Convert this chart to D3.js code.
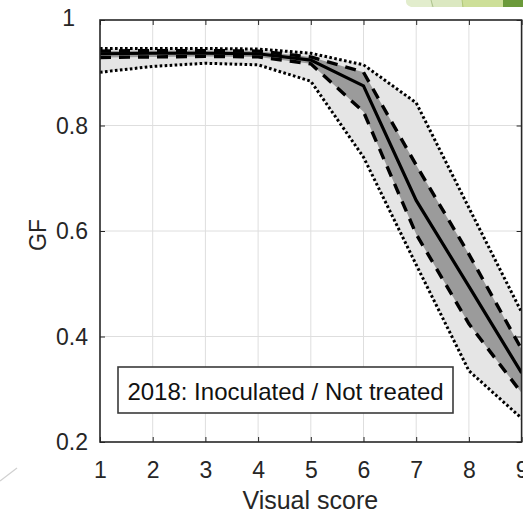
<!DOCTYPE html>
<html>
<head>
<meta charset="utf-8">
<script src="https://cdn.jsdelivr.net/npm/d3@7"></script>
<style>
  html, body { margin: 0; padding: 0; background: #ffffff; }
  svg { display: block; }
  text { font-family: "Liberation Sans", Arial, Helvetica, sans-serif; }
</style>
</head>
<body>
<svg id="chart" width="523" height="513"></svg>
<script>
// Visual score categories (x) and GF quantile curves (y)
const visualScore = [1, 2, 3, 4, 5, 6, 7, 8, 9];
const gfMedian    = [0.936, 0.937, 0.937, 0.936, 0.924, 0.875, 0.658, 0.495, 0.331];
const gfInnerHigh = [0.941, 0.942, 0.942, 0.941, 0.930, 0.901, 0.725, 0.556, 0.376];
const gfInnerLow  = [0.929, 0.930, 0.931, 0.930, 0.917, 0.826, 0.594, 0.424, 0.293];
const gfOuterHigh = [0.946, 0.946, 0.946, 0.945, 0.937, 0.915, 0.843, 0.644, 0.446];
const gfOuterLow  = [0.901, 0.912, 0.918, 0.915, 0.884, 0.740, 0.536, 0.335, 0.245];

const xTicks = [1, 2, 3, 4, 5, 6, 7, 8, 9];
const yTicks = [0.2, 0.4, 0.6, 0.8, 1];
const xLabel = "Visual score";
const yLabel = "GF";
const legendLabel = "2018: Inoculated / Not treated";

const svg = d3.select("#chart");
const axisColor = "#262626";

const x = d3.scaleLinear().domain([1, 9]).range([100, 521.6]);
const y = d3.scaleLinear().domain([0.2, 1]).range([442, 20]);
const [x0, x1] = x.range();
const [yb, yt] = y.range();

// slide decoration in the top-right corner
const deco = svg.append("g");
deco.append("path")
  .attr("d", "M406,0 L432,0 L432,7 L411,7 Q405,5 406,0 Z")
  .attr("fill", "#e2edcd");
deco.append("path")
  .attr("d", "M431,0 L463,0 L463,7 L431,7 Z")
  .attr("fill", "#dbe8c1");
deco.append("path")
  .attr("d", "M462,0 L504,0 L504,7 L462,7 Z")
  .attr("fill", "#cddf98");
deco.append("path")
  .attr("d", "M503,0 L523,0 L523,7 L503,7 Z")
  .attr("fill", "#6b9a3a");
deco.append("line").attr("x1", 431).attr("y1", 0).attr("x2", 433).attr("y2", 7)
  .attr("stroke", "#9fb880").attr("stroke-width", 0.8);
deco.append("line").attr("x1", 462).attr("y1", 0).attr("x2", 463).attr("y2", 7)
  .attr("stroke", "#a9c173").attr("stroke-width", 0.8);
svg.append("line").attr("x1", 0).attr("y1", 481).attr("x2", 17).attr("y2", 468)
  .attr("stroke", "#d0d0d0").attr("stroke-width", 1.2);

// grid
const grid = svg.append("g");
grid.selectAll("line.gx").data(xTicks.slice(1, -1)).join("line")
  .attr("x1", d => x(d)).attr("x2", d => x(d))
  .attr("y1", yt).attr("y2", yb)
  .attr("stroke", "#dedede").attr("stroke-width", 1);
grid.selectAll("line.gy").data(yTicks.slice(1, -1)).join("line")
  .attr("x1", x0).attr("x2", x1)
  .attr("y1", d => y(d)).attr("y2", d => y(d))
  .attr("stroke", "#dedede").attr("stroke-width", 1);

// clip for data
svg.append("clipPath").attr("id", "plotClip")
  .append("rect").attr("x", x0).attr("y", yt).attr("width", x1 - x0).attr("height", yb - yt);
const plot = svg.append("g").attr("clip-path", "url(#plotClip)");

const idx = d3.range(visualScore.length);
const band = (lo, hi) => d3.area()
  .x(i => x(visualScore[i]))
  .y0(i => y(lo[i]))
  .y1(i => y(hi[i]));
const curve = vals => d3.line()
  .x(i => x(visualScore[i]))
  .y(i => y(vals[i]));

plot.append("path").attr("d", band(gfOuterLow, gfOuterHigh)(idx)).attr("fill", "#e5e5e5");
plot.append("path").attr("d", band(gfInnerLow, gfInnerHigh)(idx)).attr("fill", "#9b9b9b");

[gfOuterLow, gfOuterHigh].forEach(vals => {
  plot.append("path").attr("d", curve(vals)(idx))
    .attr("fill", "none").attr("stroke", "#000").attr("stroke-width", 3)
    .attr("stroke-dasharray", "2.6,2.4");
});
[gfInnerLow, gfInnerHigh].forEach(vals => {
  plot.append("path").attr("d", curve(vals)(idx))
    .attr("fill", "none").attr("stroke", "#000").attr("stroke-width", 3.4)
    .attr("stroke-dasharray", "11,8");
});
plot.append("path").attr("d", curve(gfMedian)(idx))
  .attr("fill", "none").attr("stroke", "#000").attr("stroke-width", 3.2);

// axes (inward ticks on all four sides)
const fontSize = 23;
const gx = svg.append("g").attr("transform", `translate(0,${yb})`)
  .call(d3.axisBottom(x).tickValues(xTicks).tickSize(-5).tickFormat(d3.format("d")));
gx.select(".domain").remove();
gx.selectAll("line").attr("stroke", axisColor);
gx.selectAll("text").attr("y", 36).attr("dy", 0)
  .attr("font-size", fontSize).attr("fill", axisColor)
  .style("font-family", '"Liberation Sans", Arial, sans-serif');

const gy = svg.append("g").attr("transform", `translate(${x0},0)`)
  .call(d3.axisLeft(y).tickValues(yTicks).tickSize(-5).tickPadding(12).tickFormat(d3.format("~g")));
gy.select(".domain").remove();
gy.selectAll("line").attr("stroke", axisColor);
gy.selectAll("text").attr("font-size", fontSize).attr("fill", axisColor).attr("dy", "0.34em")
  .style("font-family", '"Liberation Sans", Arial, sans-serif');
gy.selectAll(".tick").filter(d => d === 1).select("text").attr("dx", -13).attr("dy", "0.25em");

const gtop = svg.append("g").attr("transform", `translate(0,${yt})`)
  .call(d3.axisTop(x).tickValues(xTicks).tickSize(-5).tickFormat(""));
gtop.select(".domain").remove();
gtop.selectAll("line").attr("stroke", axisColor);

const gright = svg.append("g").attr("transform", `translate(${x1},0)`)
  .call(d3.axisRight(y).tickValues(yTicks).tickSize(-5).tickFormat(""));
gright.select(".domain").remove();
gright.selectAll("line").attr("stroke", axisColor);

// frame
svg.append("rect")
  .attr("x", x0).attr("y", yt).attr("width", x1 - x0).attr("height", yb - yt)
  .attr("fill", "none").attr("stroke", axisColor).attr("stroke-width", 1.6);

// axis titles
svg.append("text")
  .attr("x", (x0 + x1) / 2 - 0.5).attr("y", 509)
  .attr("text-anchor", "middle").attr("font-size", 25).attr("fill", axisColor)
  .text(xLabel);
svg.append("text")
  .attr("transform", `translate(46,${y(0.6) + 4}) rotate(-90)`)
  .attr("text-anchor", "middle").attr("font-size", 23).attr("fill", axisColor)
  .text(yLabel);

// legend box
const legend = svg.append("g").attr("transform", "translate(118,367)");
legend.append("rect").attr("width", 335).attr("height", 46)
  .attr("fill", "#fff").attr("stroke", "#3a3a3a").attr("stroke-width", 1.6);
legend.append("text").attr("x", 167.5).attr("y", 33)
  .attr("text-anchor", "middle").attr("font-size", 24).attr("fill", "#111")
  .text(legendLabel);
</script>
</body>
</html>
